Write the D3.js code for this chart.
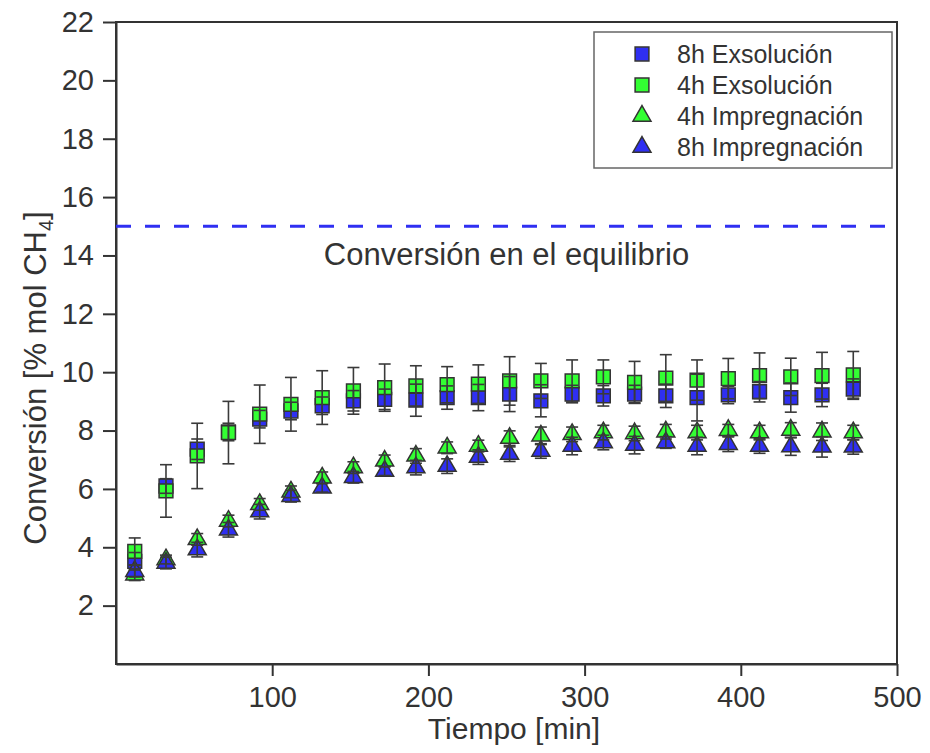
<!DOCTYPE html>
<html>
<head>
<meta charset="utf-8">
<script src="https://cdn.jsdelivr.net/npm/d3@7"></script>
<style>
  html, body { margin: 0; padding: 0; background: #fff; overflow: hidden; }
  svg { display: block; font-family: "Liberation Sans", Arial, sans-serif; }
</style>
<script>
// time points [min]
const tiempo = [12, 32, 52, 72, 92, 112, 132, 152, 172, 192, 212, 232, 252, 272, 292, 312, 332, 352, 372, 392, 412, 432, 452, 472];

// conversion values [% mol CH4]
const exso8h = [3.52, 6.10, 7.36, 7.95, 8.39, 8.67, 8.85, 9.02, 9.07, 9.04, 9.13, 9.13, 9.25, 9.02, 9.25, 9.19, 9.25, 9.19, 9.13, 9.22, 9.33, 9.13, 9.22, 9.42];
const exso4h = [3.86, 5.93, 7.13, 7.93, 8.56, 8.90, 9.13, 9.36, 9.47, 9.53, 9.57, 9.59, 9.70, 9.70, 9.70, 9.84, 9.65, 9.80, 9.73, 9.78, 9.88, 9.84, 9.88, 9.91];
const imp4h  = [3.06, 3.58, 4.27, 4.90, 5.47, 5.90, 6.38, 6.73, 6.96, 7.13, 7.41, 7.47, 7.74, 7.82, 7.87, 7.93, 7.90, 7.96, 7.93, 8.01, 7.93, 8.02, 7.96, 7.93];
const imp8h  = [3.18, 3.46, 3.92, 4.60, 5.22, 5.75, 6.04, 6.40, 6.61, 6.73, 6.78, 7.09, 7.19, 7.30, 7.47, 7.59, 7.50, 7.59, 7.47, 7.53, 7.47, 7.45, 7.44, 7.44];

// error (half-width of bars)
const errExso8h = [0.30, 0.25, 0.35, 0.30, 0.30, 0.30, 0.30, 0.35, 0.35, 0.55, 0.40, 0.45, 0.60, 0.55, 0.30, 0.35, 0.30, 0.40, 0.80, 0.30, 0.35, 0.50, 0.40, 0.35];
const errExso4h = [0.46, 0.90, 1.12, 1.07, 1.00, 0.92, 0.92, 0.80, 0.81, 0.69, 0.62, 0.66, 0.83, 0.60, 0.72, 0.58, 0.72, 0.80, 0.69, 0.69, 0.78, 0.64, 0.80, 0.80];
const errImp4h  = [0.20, 0.15, 0.20, 0.20, 0.20, 0.20, 0.20, 0.20, 0.20, 0.25, 0.20, 0.20, 0.25, 0.30, 0.25, 0.25, 0.25, 0.25, 0.25, 0.20, 0.25, 0.25, 0.30, 0.25];
const errImp8h  = [0.20, 0.20, 0.25, 0.25, 0.25, 0.20, 0.15, 0.20, 0.15, 0.25, 0.25, 0.25, 0.25, 0.25, 0.30, 0.25, 0.30, 0.20, 0.30, 0.25, 0.25, 0.30, 0.35, 0.25];

const equilibrio = 15;

const xTicks = [100, 200, 300, 400, 500];
const yTicks = [2, 4, 6, 8, 10, 12, 14, 16, 18, 20, 22];

function draw() {
  const width = 930, height = 753;
  const margin = { top: 22, right: 33, bottom: 89, left: 116 };
  const innerWidth = width - margin.left - margin.right;
  const innerHeight = height - margin.top - margin.bottom;

  const BLUE = '#2f2ff2', GREEN = '#33ff33', INK = '#333';

  // series in legend / drawing order
  const series = [
    { label: '8h Exsolución',   values: exso8h, err: errExso8h, shape: d3.symbolSquare,   size: 190, color: BLUE },
    { label: '4h Exsolución',   values: exso4h, err: errExso4h, shape: d3.symbolSquare,   size: 190, color: GREEN },
    { label: '4h Impregnación', values: imp4h,  err: errImp4h,  shape: d3.symbolTriangle, size: 140, color: GREEN },
    { label: '8h Impregnación', values: imp8h,  err: errImp8h,  shape: d3.symbolTriangle, size: 140, color: BLUE }
  ];

  const x = d3.scaleLinear().domain([0, 500]).range([0, innerWidth]);
  const y = d3.scaleLinear().domain([0, 22]).range([innerHeight, 0]);

  const svg = d3.select('#chart').append('svg')
      .attr('width', width)
      .attr('height', height);

  const g = svg.append('g')
      .attr('transform', `translate(${margin.left},${margin.top})`);

  // frame (top and right)
  g.append('rect')
      .attr('width', innerWidth)
      .attr('height', innerHeight)
      .attr('fill', 'none')
      .attr('stroke', INK)
      .attr('stroke-width', 2);

  // axes
  const xAxis = g.append('g')
      .attr('transform', `translate(0,${innerHeight})`)
      .call(d3.axisBottom(x).tickValues(xTicks).tickSize(12).tickPadding(10).tickSizeOuter(0));
  const yAxis = g.append('g')
      .call(d3.axisLeft(y).tickValues(yTicks).tickSize(13).tickPadding(9).tickSizeOuter(0));

  [xAxis, yAxis].forEach(a => {
    a.select('.domain').attr('stroke', INK).attr('stroke-width', 2);
    a.selectAll('.tick line').attr('stroke', INK).attr('stroke-width', 2);
    a.selectAll('.tick text')
        .attr('fill', INK)
        .style('font-size', '29px')
        .style('font-family', '"Liberation Sans", Arial, sans-serif');
  });

  // equilibrium line
  g.append('line')
      .attr('x1', x(0)).attr('x2', x(500))
      .attr('y1', y(equilibrio)).attr('y2', y(equilibrio))
      .attr('stroke', BLUE)
      .attr('stroke-width', 3)
      .attr('stroke-dasharray', '15,14');

  g.append('text')
      .attr('x', x(250))
      .attr('y', y(equilibrio) + 39)
      .attr('text-anchor', 'middle')
      .attr('fill', INK)
      .style('font-size', '31px')
      .text('Conversión en el equilibrio');

  // markers
  series.forEach(s => {
    g.append('g')
      .selectAll('path')
      .data(s.values)
      .join('path')
        .attr('transform', (d, i) => `translate(${x(tiempo[i])},${y(d)})`)
        .attr('d', d3.symbol().type(s.shape).size(s.size))
        .attr('fill', s.color)
        .attr('stroke', INK)
        .attr('stroke-width', 1.5);
  });

  // error bars on top
  const cap = 6;
  series.forEach(s => {
    const eb = g.append('g')
        .attr('stroke', '#3a3a3a')
        .attr('stroke-width', 1.6)
        .attr('fill', 'none');
    s.values.forEach((d, i) => {
      const cx = x(tiempo[i]);
      const y0 = y(d - s.err[i]), y1 = y(d + s.err[i]);
      eb.append('line').attr('x1', cx).attr('x2', cx).attr('y1', y0).attr('y2', y1);
      eb.append('line').attr('x1', cx - cap).attr('x2', cx + cap).attr('y1', y0).attr('y2', y0);
      eb.append('line').attr('x1', cx - cap).attr('x2', cx + cap).attr('y1', y1).attr('y2', y1);
    });
  });

  // legend
  const legend = g.append('g')
      .attr('transform', `translate(${x(0) + 478},${10})`);

  legend.append('rect')
      .attr('width', 298)
      .attr('height', 136)
      .attr('fill', '#fff')
      .attr('stroke', '#666')
      .attr('stroke-width', 1.5);

  series.forEach((s, i) => {
    const row = legend.append('g')
        .attr('transform', `translate(0,${22 + i * 31})`);
    row.append('path')
        .attr('transform', 'translate(48,0)')
        .attr('d', d3.symbol().type(s.shape).size(s.size))
        .attr('fill', s.color)
        .attr('stroke', INK)
        .attr('stroke-width', 1.5);
    row.append('text')
        .attr('x', 83)
        .attr('y', 9)
        .attr('fill', INK)
        .style('font-size', '25px')
        .text(s.label);
  });

  // axis titles
  svg.append('text')
      .attr('x', 514)
      .attr('y', 739)
      .attr('text-anchor', 'middle')
      .attr('fill', INK)
      .style('font-size', '30px')
      .text('Tiempo [min]');

  const yTitle = svg.append('text')
      .attr('transform', 'translate(46,378) rotate(-90)')
      .attr('text-anchor', 'middle')
      .attr('fill', INK)
      .style('font-size', '31px');
  yTitle.append('tspan').text('Conversión [% mol CH');
  yTitle.append('tspan').attr('dy', 7).style('font-size', '20px').text('4');
  yTitle.append('tspan').attr('dy', -7).text(']');
}

document.addEventListener('DOMContentLoaded', draw);
</script>
</head>
<body>
<div id="chart"></div>
</body>
</html>
